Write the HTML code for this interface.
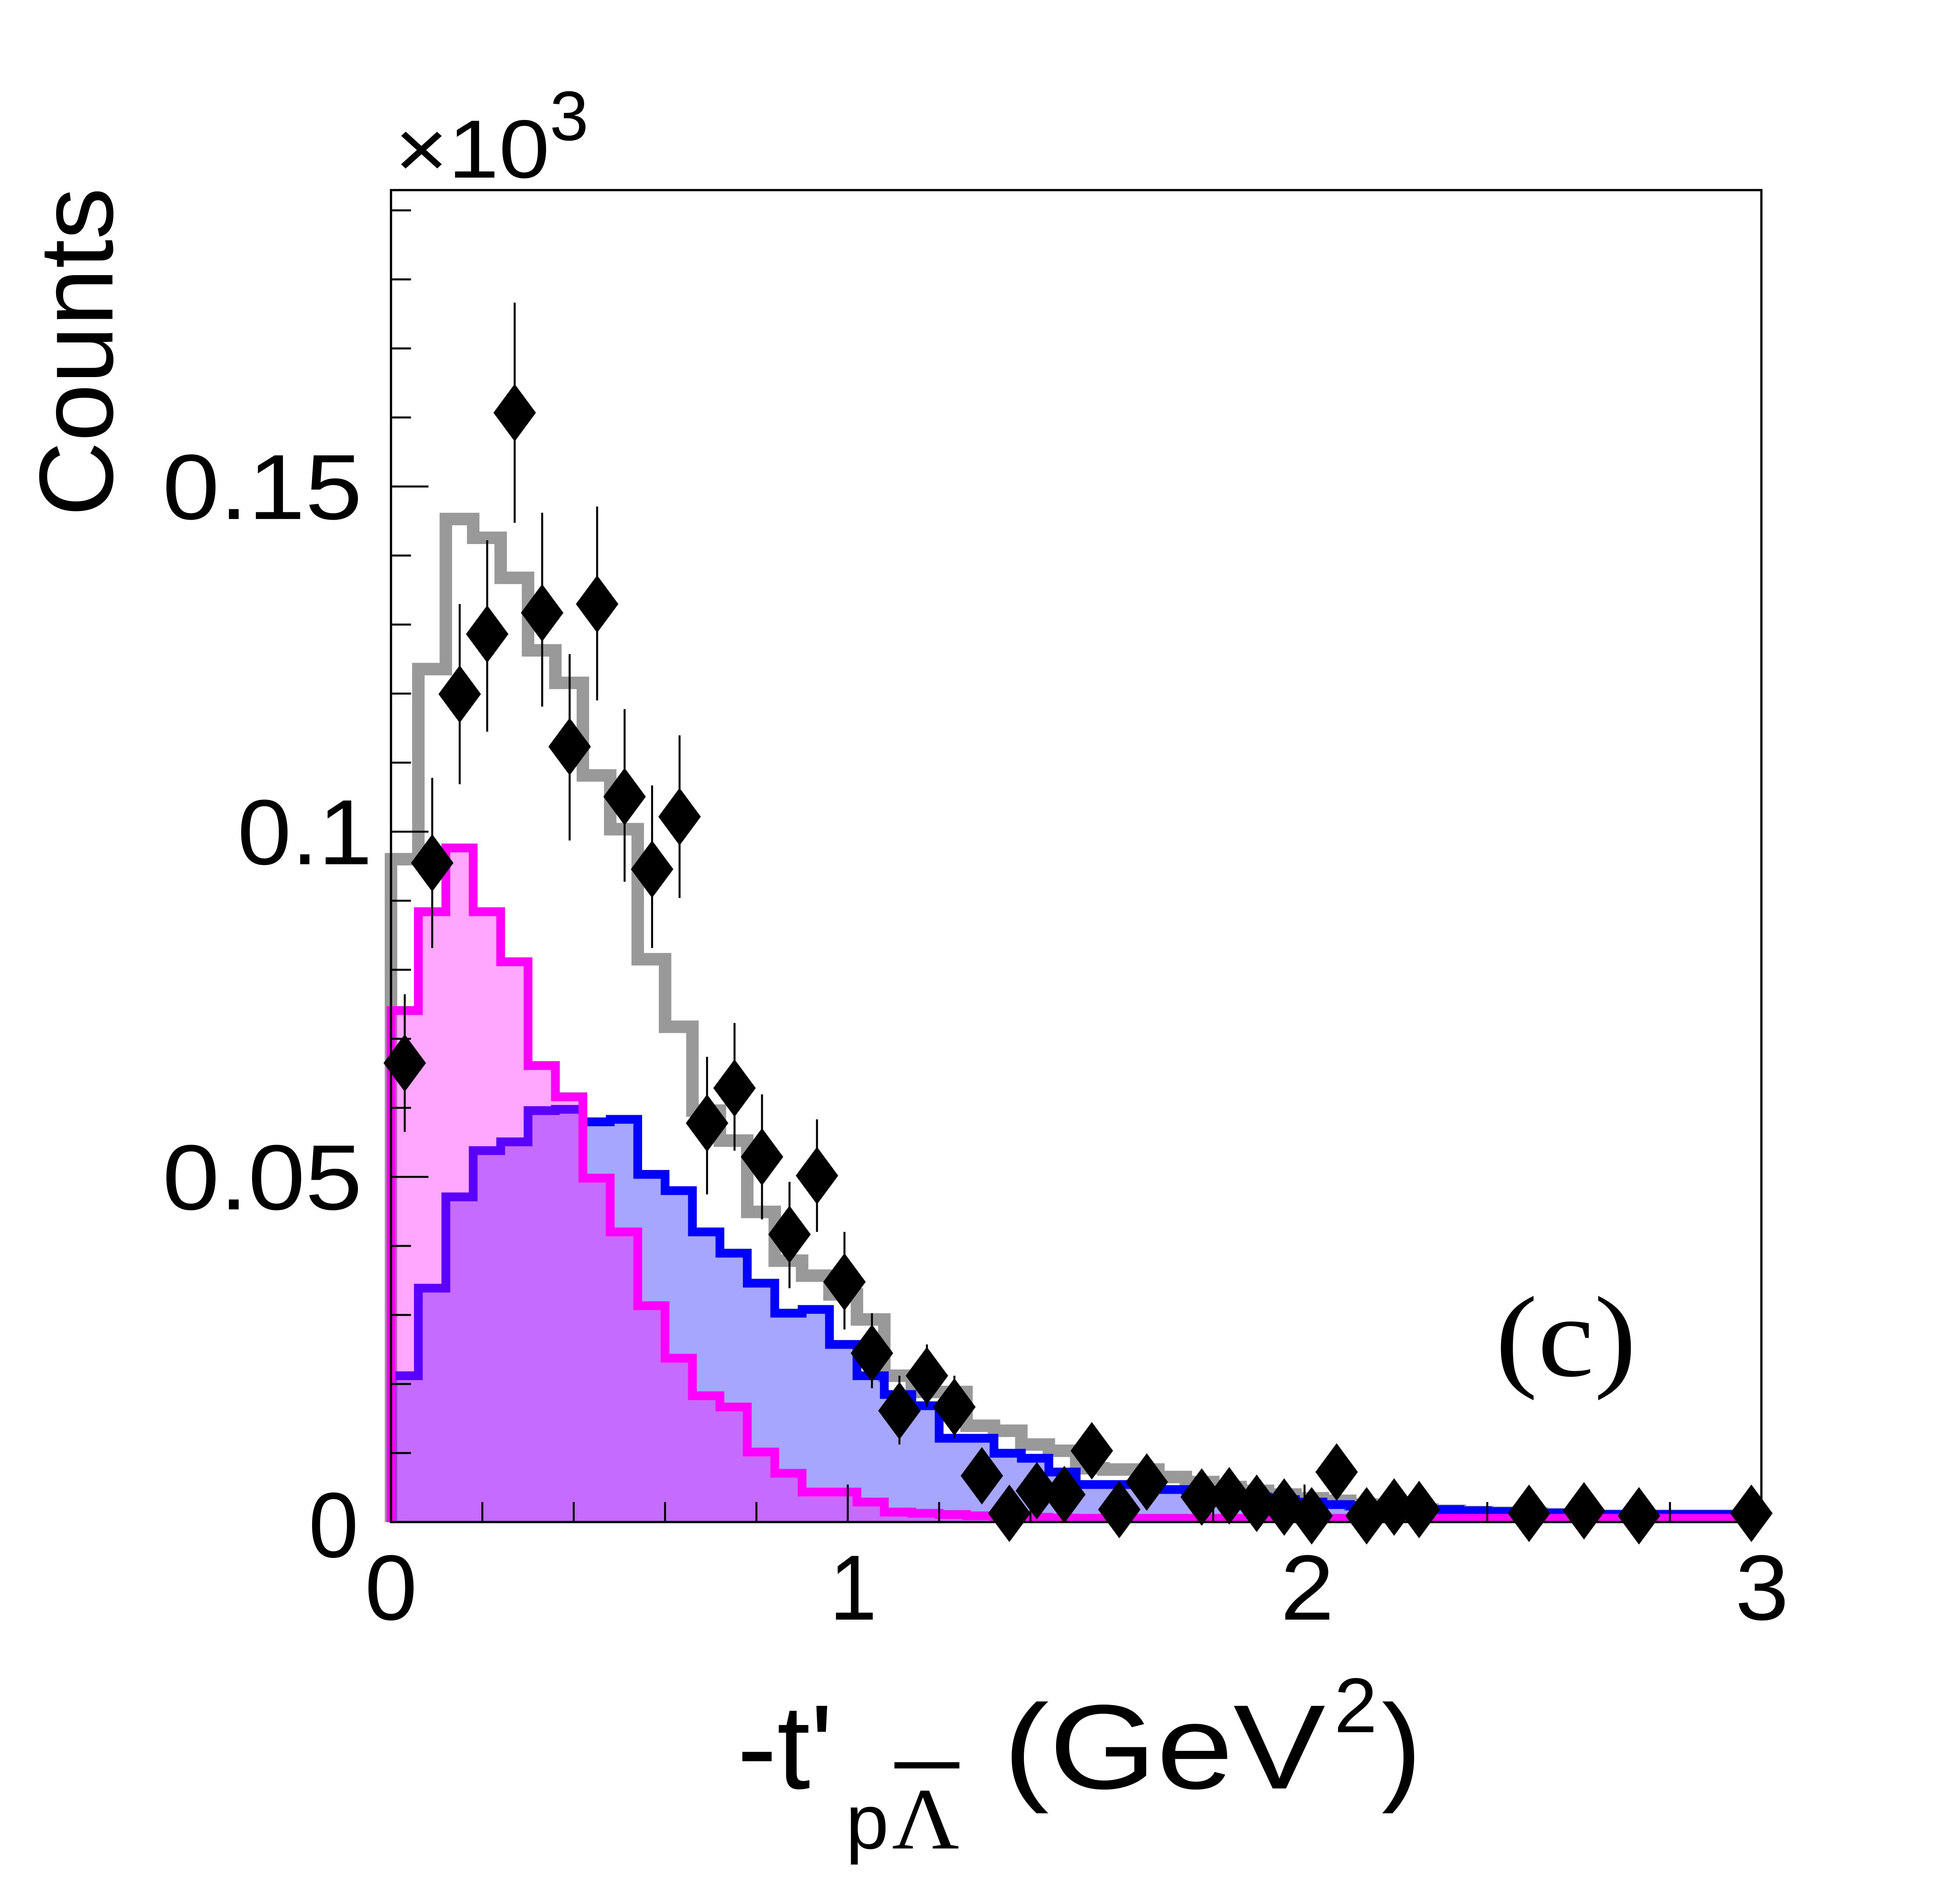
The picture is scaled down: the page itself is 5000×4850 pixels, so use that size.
<!DOCTYPE html>
<html><head><meta charset="utf-8"><style>html,body{margin:0;padding:0;background:#fff}svg{display:block}</style></head>
<body>
<svg id="s" width="5000" height="4850" viewBox="0 0 1569 1520" preserveAspectRatio="none" xmlns="http://www.w3.org/2000/svg" font-family="Liberation Sans, sans-serif">
<rect width="1569" height="1520" fill="#fff"/>
<g id="hist"></g>
<g id="ticks" stroke="#000" stroke-width="1.6"></g>
<rect x="313" y="152" width="1097" height="1065" fill="none" stroke="#000" stroke-width="1.8"/>
<g id="pts"></g>
<g font-size="74" fill="#000">
<text x="130" y="415" textLength="160" lengthAdjust="spacingAndGlyphs">0.15</text>
<text x="190" y="691" textLength="108" lengthAdjust="spacingAndGlyphs">0.1</text>
<text x="130" y="967" textLength="160" lengthAdjust="spacingAndGlyphs">0.05</text>
<text x="247" y="1245" textLength="40" lengthAdjust="spacingAndGlyphs">0</text>
<text x="292" y="1295" textLength="42" lengthAdjust="spacingAndGlyphs">0</text>
<text x="664" y="1295" textLength="38" lengthAdjust="spacingAndGlyphs">1</text>
<text x="1025" y="1295" textLength="43" lengthAdjust="spacingAndGlyphs">2</text>
<text x="1389" y="1295" textLength="43" lengthAdjust="spacingAndGlyphs">3</text>
</g>
<text x="316" y="142" font-size="66" textLength="124" lengthAdjust="spacingAndGlyphs">×10</text>
<text x="440" y="112" font-size="56">3</text>
<text transform="translate(90,413) rotate(-90)" font-size="84" textLength="263" lengthAdjust="spacingAndGlyphs">Counts</text>
<text x="590" y="1430" font-size="96">-t'</text>
<text x="677" y="1478" font-size="62">p</text>
<text x="714" y="1478" font-size="70" font-family="Liberation Serif, serif" textLength="54" lengthAdjust="spacingAndGlyphs">Λ</text>
<rect x="716" y="1409" width="52" height="5" fill="#000"/>
<text x="803" y="1430" font-size="96" textLength="258" lengthAdjust="spacingAndGlyphs">(GeV</text>
<text x="1068" y="1385" font-size="62">2</text>
<text x="1106" y="1430" font-size="96">)</text>
<text x="1197" y="1100" font-size="92" font-family="Liberation Serif, serif" textLength="113" lengthAdjust="spacingAndGlyphs">(c)</text>
</svg>
<script>
const NS="http://www.w3.org/2000/svg";
const x0=313,bw=21.94,y0=1217;
function step(v){let d="M"+x0+","+y0;for(let i=0;i<v.length;i++){d+=" L"+(x0+i*bw).toFixed(1)+","+v[i]+" L"+(x0+(i+1)*bw).toFixed(1)+","+v[i];}return d;}
function pad(v,f){const r=v.slice();let last=v[v.length-1];while(r.length<50){last=Math.min(f,last+0.6);r.push(+last.toFixed(1));}return r;}
const gray=pad([687,535,415,430,462,520,546,620,663,767,821,888,912,969,1008,1020,1035,1055,1100,1113,1113,1140,1144,1155,1160,1174,1175,1175,1181,1185,1189,1192,1195,1198,1200,1203,1205,1207,1208,1209],1212);
const mag=pad([808,729,678,729,769,852,877,942,985,1044,1086,1116,1125,1161,1178,1193,1193,1201,1209,1210,1211,1212],1214);
const blue=pad([1100,1030,957,920,913,888,887,897,895,939,952,985,1002,1026,1050,1047,1075,1100,1115,1124,1150,1150,1162,1166,1177,1187,1187,1187,1191,1193,1195,1197,1199,1201,1203,1204,1205,1206,1207,1208],1211);
const h=document.getElementById("hist");
function add(tag,at,par){const e=document.createElementNS(NS,tag);for(const k in at)e.setAttribute(k,at[k]);(par||h).appendChild(e);return e;}
function area(v){return step(v)+" L"+(x0+50*bw).toFixed(1)+","+y0+" Z";}
add("path",{d:step(gray),fill:"none",stroke:"#999","stroke-width":10});
add("path",{d:area(blue),fill:"rgba(0,0,255,0.35)",stroke:"none"});
add("path",{d:step(blue),fill:"none",stroke:"#0000ff","stroke-width":7});
add("path",{d:area(mag),fill:"rgba(255,0,255,0.35)",stroke:"none"});
add("path",{d:step(mag),fill:"none",stroke:"#ff00ff","stroke-width":7});
const t=document.getElementById("ticks");
for(let i=0;i<=19;i++){const y=y0-i*55.2;const L=(i%5==0)?30:16;add("line",{x1:313,x2:313+L,y1:y,y2:y},t);}
for(let i=0;i<=15;i++){const x=313+i*73.13;const L=(i%5==0)?30:16;add("line",{x1:x,x2:x,y1:y0,y2:y0-L},t);}
const P=[[324,850,795,905],[346,690,622,758],[368,555,483,627],[390,507,432,585],[412,330,242,418],[434,490,410,565],[456,597,523,672],[478,483,405,560],[500,637,567,705],[522,695,628,758],[544,653,588,718],[566,898,845,955],[588,870,818,920],[610,925,875,975],[632,987,945,1030],[654,940,895,985],[676,1025,985,1063],[698,1082,1050,1110],[720,1128,1100,1155],[742,1100,1075,1125],[764,1125,1100,1150],[786,1180,1160,1198],[808,1210],[830,1192],[852,1195],[874,1160],[896,1207],[918,1185],[962,1197],[984,1196],[1006,1202],[1028,1205],[1050,1212],[1070,1177],[1094,1212],[1116,1205],[1136,1207],[1224,1210],[1268,1208],[1312,1212],[1402,1210]];
const pg=document.getElementById("pts");
for(const p of P){if(p.length>2)add("line",{x1:p[0],x2:p[0],y1:p[2],y2:p[3],stroke:"#000","stroke-width":1.6},pg);
add("polygon",{points:`${p[0]},${p[1]-23} ${p[0]+17},${p[1]} ${p[0]},${p[1]+23} ${p[0]-17},${p[1]}`,fill:"#000"},pg);}
</script>
</body></html>
